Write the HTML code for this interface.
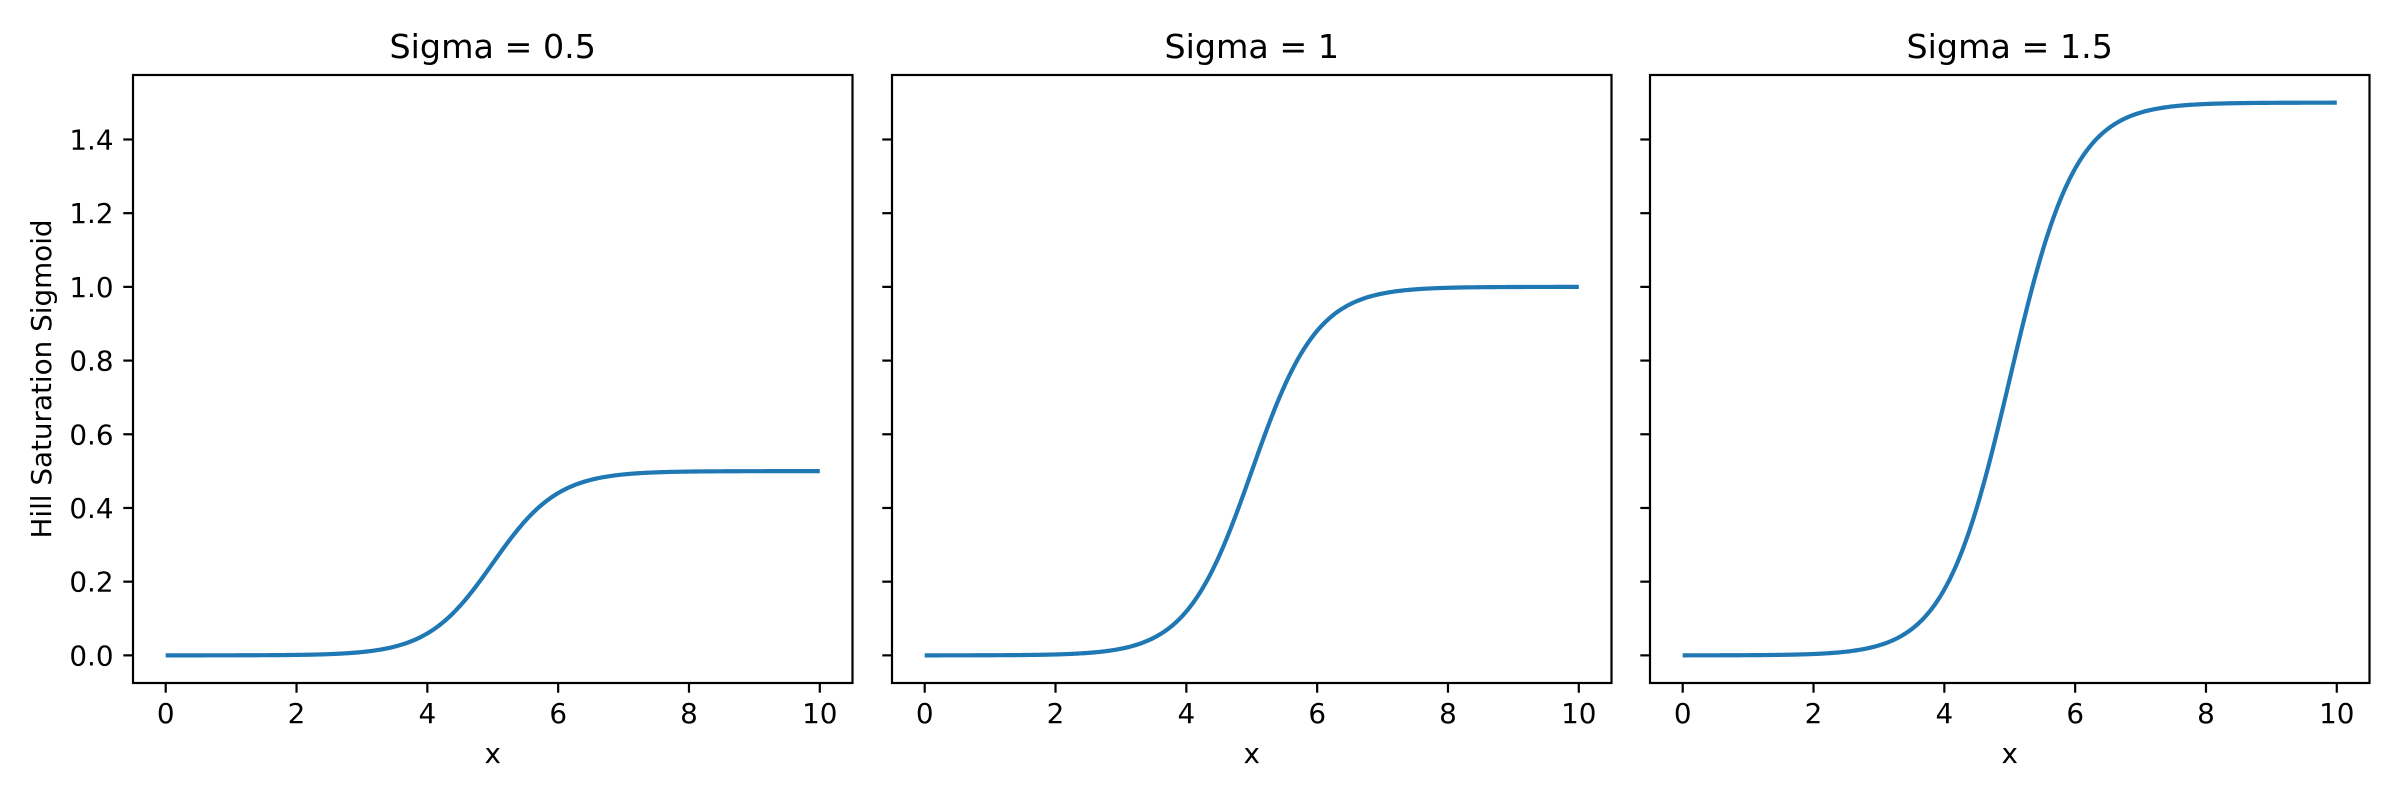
<!DOCTYPE html>
<html><head><meta charset="utf-8"><style>
html,body{margin:0;padding:0;background:#fff;}
svg{display:block;font-family:"DejaVu Sans","Liberation Sans",sans-serif;}
</style></head><body>
<svg id="s" width="2400" height="800" xmlns="http://www.w3.org/2000/svg"></svg>
<script>
(function(){
const sv=document.getElementById('s');
const panels=[{x0:133,sig:0.5,t:'Sigma = 0.5'},{x0:892,sig:1,t:'Sigma = 1'},{x0:1650,sig:1.5,t:'Sigma = 1.5'}];
const W=719.5,yTop=75,yBot=683,ux=W/11,uy=(yBot-yTop)/1.65,y0=yBot-0.075*uy;
const FS=27.8,TS=33.3,TL=9.7;
let h='';
panels.forEach(function(p,i){
  const X=function(v){return p.x0+(v+0.5)*ux;}, Y=function(v){return y0-v*uy;};
  let pts=[];
  for(let k=0;k<=400;k++){const x=k/40;const y=p.sig/(1+Math.exp(-2*(x-5)));pts.push(X(x).toFixed(2)+','+Y(y).toFixed(2));}
  h+='<polyline points="'+pts.join(' ')+'" fill="none" stroke="#1f77b4" stroke-width="4.2" stroke-linejoin="round"/>';
  h+='<rect x="'+p.x0+'" y="'+yTop+'" width="'+W+'" height="'+(yBot-yTop)+'" fill="none" stroke="#000" stroke-width="2.2"/>';
  for(let v=0;v<=10;v+=2){const x=X(v);h+='<line x1="'+x+'" y1="'+yBot+'" x2="'+x+'" y2="'+(yBot+TL)+'" stroke="#000" stroke-width="2.2"/><text x="'+x+'" y="'+(yBot+40)+'" font-size="'+FS+'" text-anchor="middle">'+v+'</text>';}
  for(let k=0;k<=7;k++){const y=Y(k*0.2);h+='<line x1="'+(p.x0-TL)+'" y1="'+y+'" x2="'+p.x0+'" y2="'+y+'" stroke="#000" stroke-width="2.2"/>';
    if(i==0)h+='<text x="'+(p.x0-TL-9.7)+'" y="'+(y+10)+'" font-size="'+FS+'" text-anchor="end">'+(k*0.2).toFixed(1)+'</text>';}
  h+='<text x="'+(p.x0+W/2)+'" y="763" font-size="'+FS+'" text-anchor="middle">x</text>';
  h+='<text x="'+(p.x0+W/2)+'" y="'+(yTop-17)+'" font-size="'+TS+'" text-anchor="middle">'+p.t+'</text>';
});
h+='<text transform="translate(51,'+((yTop+yBot)/2)+') rotate(-90)" font-size="'+FS+'" text-anchor="middle">Hill Saturation Sigmoid</text>';
sv.innerHTML=h;
})();
</script>
</body></html>
